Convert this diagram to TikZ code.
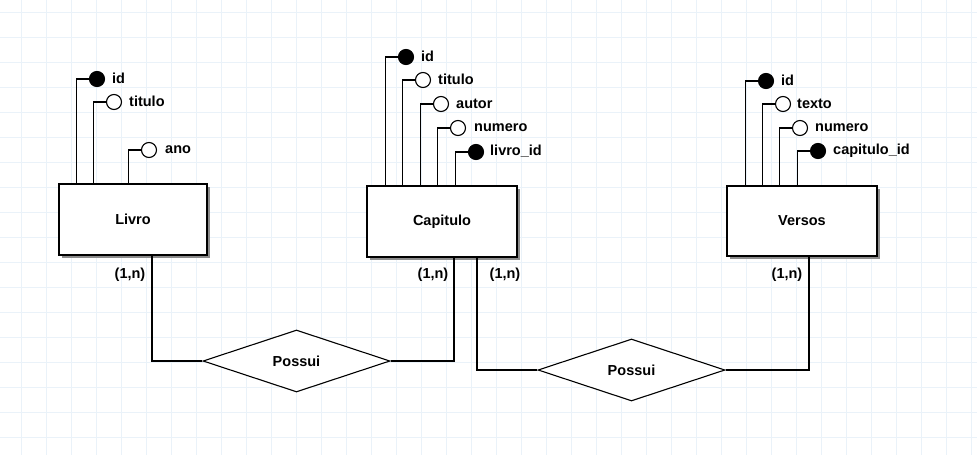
\documentclass[tikz,border=0pt]{standalone}
\usepackage{fontspec}
\setmainfont{Liberation Sans}
\usetikzlibrary{shapes.geometric,shadows}
\definecolor{gridc}{RGB}{234,242,249}
\begin{document}
\begin{tikzpicture}[x=1pt,y=-1pt,
  txt/.style={font=\bfseries\fontsize{14.5}{17}\selectfont},
  ent/.style={draw,fill=white,line width=1.1pt,txt,inner sep=0,
    general shadow={fill=black!45,shadow xshift=2.5pt,shadow yshift=-2.5pt}},
  rel/.style={draw,fill=white,diamond,line width=1.1pt,txt,inner sep=0,
    minimum width=187pt,minimum height=62pt,aspect=3},
  attr/.style={circle,draw,fill=white,minimum size=15pt,inner sep=0,line width=1.1pt},
  keyattr/.style={attr,fill=black},
  lbl/.style={txt,anchor=west,inner sep=0},
  card/.style={txt,inner sep=0},
  conn/.style={line width=1.1pt}]
\useasboundingbox (0,0) rectangle (977,455);
\fill[white] (0,0) rectangle (977,455);
% grid
\foreach \gx in {21,46,...,977} \draw[gridc,line width=0.8pt] (\gx,0) -- (\gx,455);
\foreach \gy in {12,37,...,455} \draw[gridc,line width=0.8pt] (0,\gy) -- (977,\gy);

% entities
\node[ent,minimum width=148pt,minimum height=71pt] (livro) at (133,219.5) {Livro};
\node[ent,minimum width=150pt,minimum height=71pt] (cap) at (442,221.5) {Capitulo};
\node[ent,minimum width=150pt,minimum height=70pt] (ver) at (802,221) {Versos};

% Livro attributes
\node[keyattr] (lid) at (97,79) {};
\node[lbl] at (112,78.5) {id};
\node[attr] (ltit) at (114,102) {};
\node[lbl] at (129,101.5) {titulo};
\node[attr] (lano) at (149,150) {};
\node[lbl] at (165,149.5) {ano};
\foreach \a in {lid,ltit,lano}
  \draw[conn] (\a.west) -| ([xshift=-12.5pt]\a.west |- livro.north);

% Capitulo attributes
\node[keyattr] (cid) at (406,57) {};
\node[lbl] at (421,56.5) {id};
\node[attr] (ctit) at (423,80) {};
\node[lbl] at (438,79.5) {titulo};
\node[attr] (caut) at (441,104) {};
\node[lbl] at (456,103.5) {autor};
\node[attr] (cnum) at (458,128) {};
\node[lbl] at (474,127.5) {numero};
\node[keyattr] (clid) at (476,152) {};
\node[lbl] at (490,151.5) {livro\_id};
\foreach \a in {cid,ctit,caut,cnum,clid}
  \draw[conn] (\a.west) -| ([xshift=-12.5pt]\a.west |- cap.north);

% Versos attributes
\node[keyattr] (vid) at (766,81) {};
\node[lbl] at (781,80.5) {id};
\node[attr] (vtex) at (783,104) {};
\node[lbl] at (797,103.5) {texto};
\node[attr] (vnum) at (800,128) {};
\node[lbl] at (815,127.5) {numero};
\node[keyattr] (vcid) at (818,151) {};
\node[lbl] at (833,150.5) {capitulo\_id};
\foreach \a in {vid,vtex,vnum,vcid}
  \draw[conn] (\a.west) -| ([xshift=-12.5pt]\a.west |- ver.north);

% relationships
\node[rel] (r1) at (296.5,361) {Possui};
\node[rel] (r2) at (631.5,370) {Possui};
\coordinate (x1) at (152,0);
\coordinate (x2) at (454,0);
\coordinate (x3) at (477,0);
\coordinate (x4) at (809,0);
\draw[conn] (r1.west) -| (livro.south -| x1);
\draw[conn] (r1.east) -| (cap.south -| x2);
\draw[conn] (r2.west) -| (cap.south -| x3);
\draw[conn] (r2.east) -| (ver.south -| x4);

% cardinalities
\node[card] at (130,275) {(1,n)};
\node[card] at (433,275) {(1,n)};
\node[card] at (505,275) {(1,n)};
\node[card] at (787,275) {(1,n)};
\end{tikzpicture}
\end{document}
